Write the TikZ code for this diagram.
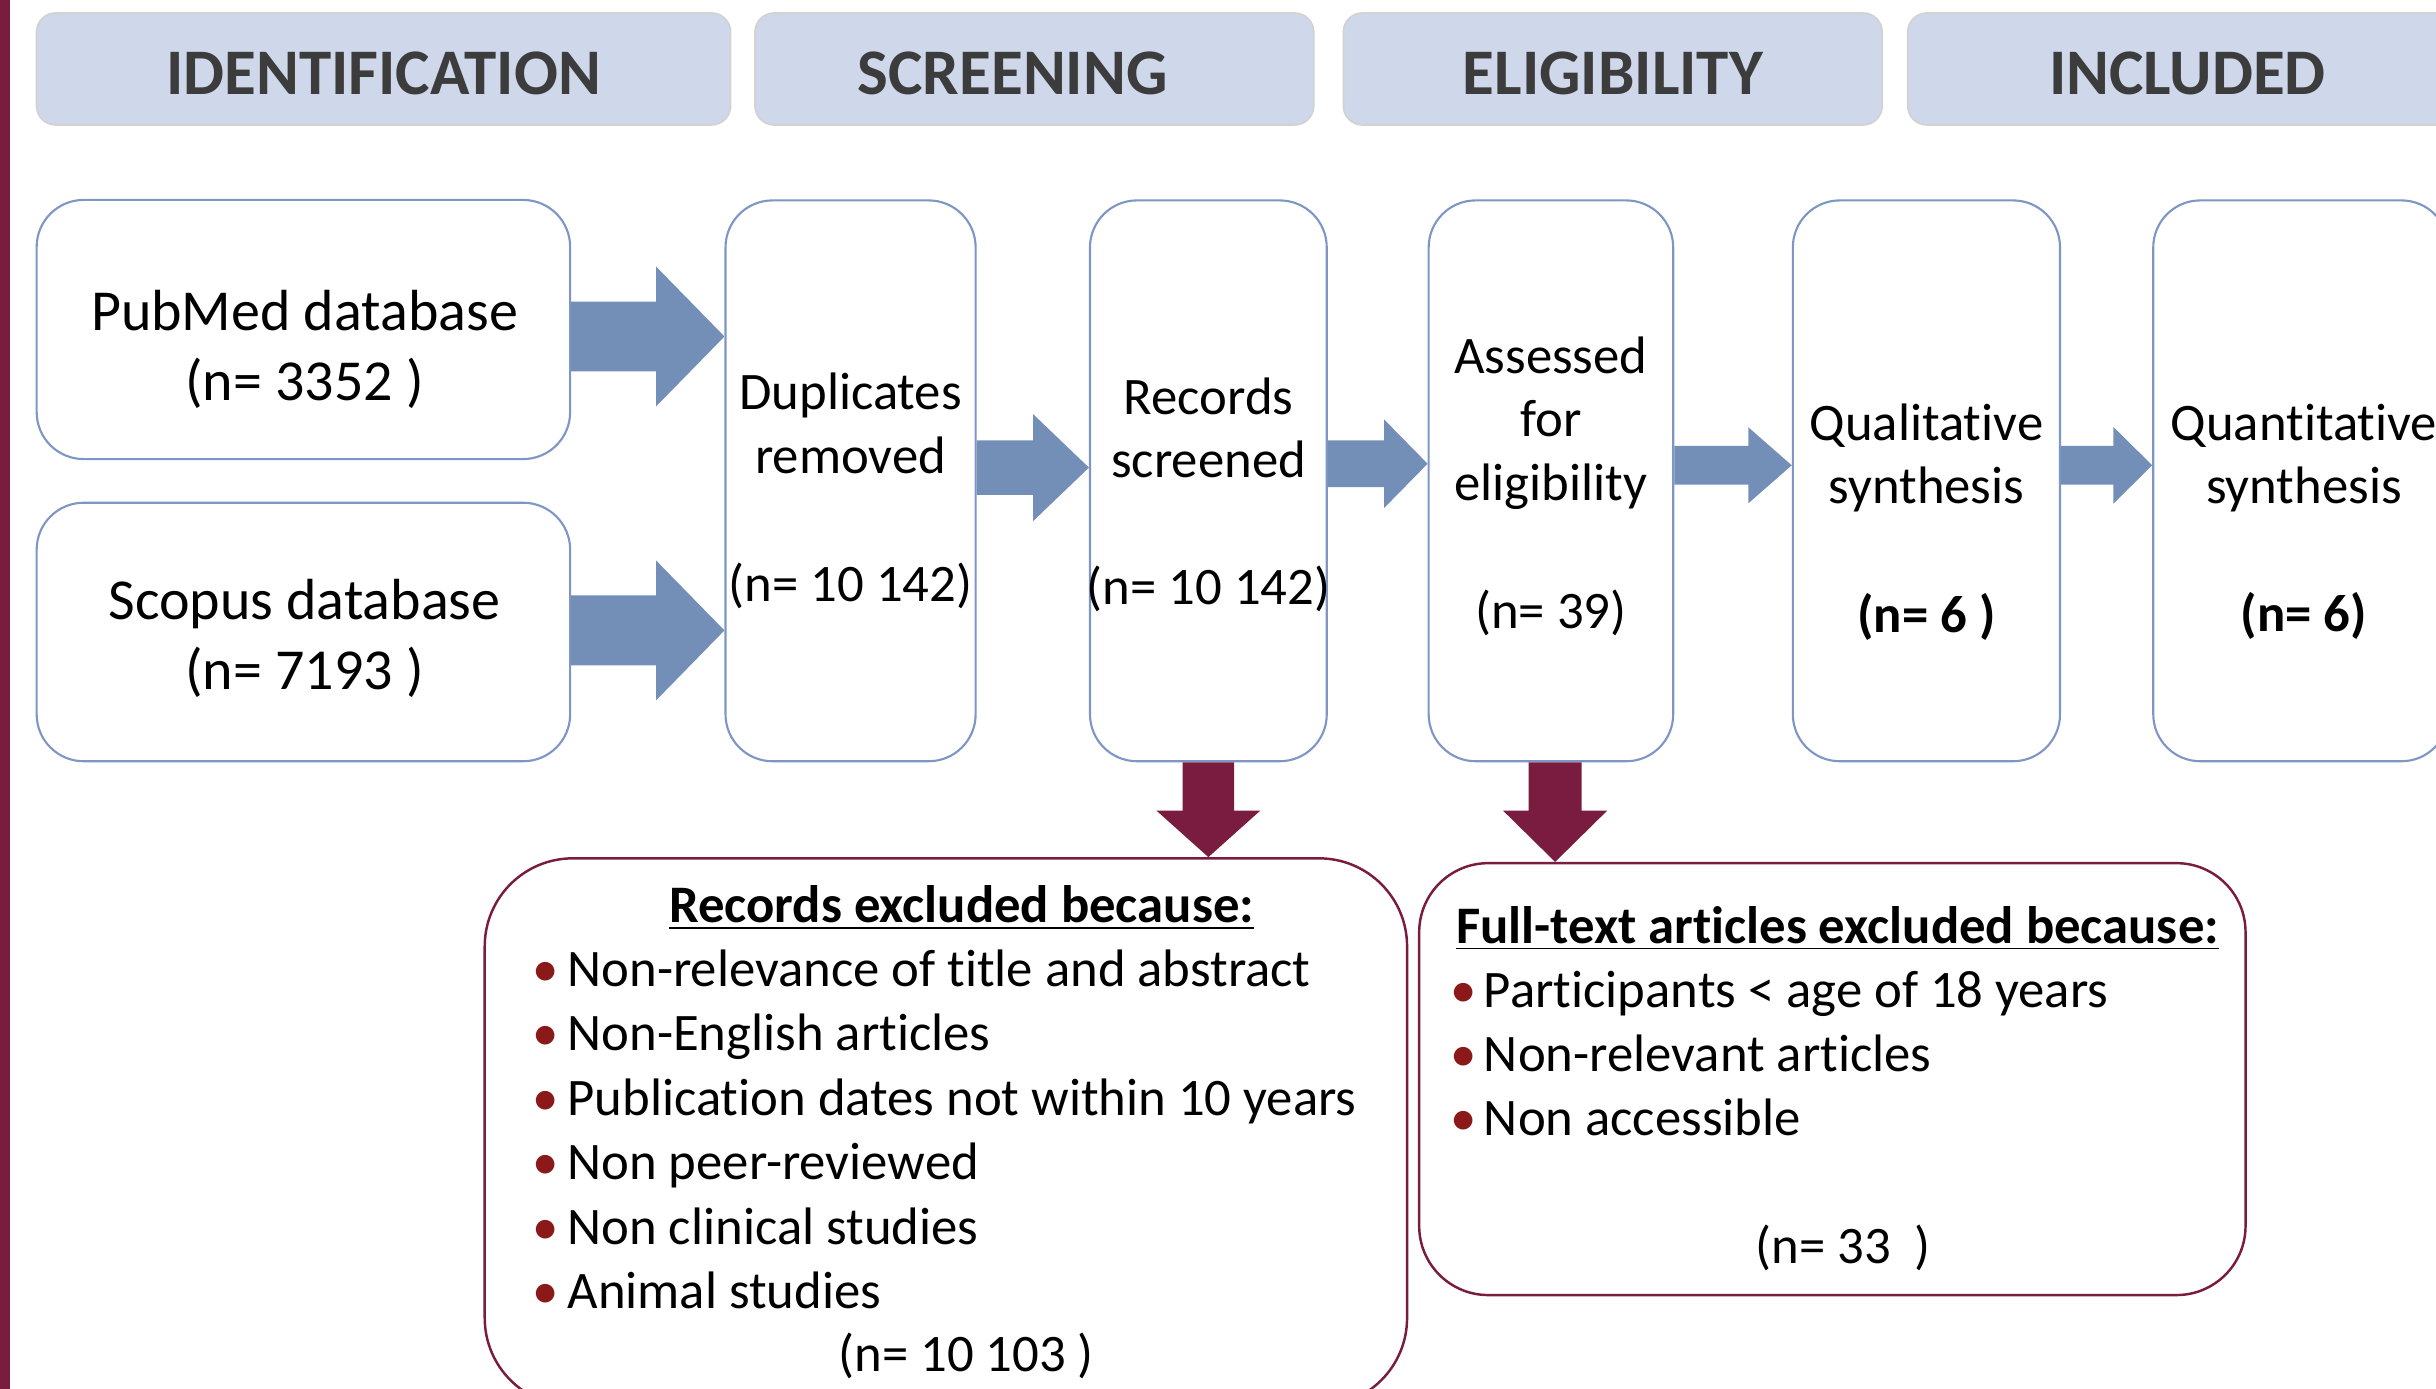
\documentclass[tikz,border=0pt]{standalone}
\usepackage{fontspec}
\setmainfont{Carlito}[Ligatures={NoCommon,NoContextual}]
\usetikzlibrary{calc,fit}

\definecolor{headfill}{RGB}{207,216,235}
\definecolor{headtext}{RGB}{60,60,60}
\definecolor{boxblue}{RGB}{125,150,196}
\definecolor{arrowblue}{RGB}{116,143,183}
\definecolor{wine}{RGB}{122,28,64}
\definecolor{bulred}{RGB}{140,25,25}

\newcommand{\pxu}{0.015536cm}
% #1 colour, #2 from, #3 to, #4 shift, #5 half shaft, #6 half head, #7 head length
\newcommand{\blockright}[7]{%
  \fill[#1] ($(#2)+(0,#4-#5)$) -- ($(#2 -| #3)+(-#7,#4-#5)$) -- ($(#2 -| #3)+(-#7,#4-#6)$)
    -- ($(#2 -| #3)+(0,#4)$) -- ($(#2 -| #3)+(-#7,#4+#6)$) -- ($(#2 -| #3)+(-#7,#4+#5)$)
    -- ($(#2)+(0,#4+#5)$) -- cycle;}
\newcommand{\blockdown}[7]{%
  \fill[#1] ($(#2)+(#4-#5,0)$) -- ($(#2 |- #3)+(#4-#5,-#7)$) -- ($(#2 |- #3)+(#4-#6,-#7)$)
    -- ($(#2 |- #3)+(#4,0)$) -- ($(#2 |- #3)+(#4+#6,-#7)$) -- ($(#2 |- #3)+(#4+#5,-#7)$)
    -- ($(#2)+(#4+#5,0)$) -- cycle;}

\begin{document}
\begin{tikzpicture}[x=0.015536cm, y=-0.015536cm,
    header/.style={draw=gray!35, line width=0.5pt, fill=headfill, rounded corners=0.19cm, inner sep=0pt,
      minimum height=72*\pxu, text height=14.7pt, text depth=0pt,
      text=headtext, font=\fontsize{18.5}{22}\selectfont\bfseries},
    box/.style={draw=boxblue, line width=0.6pt, fill=white, rounded corners=0.47cm, inner sep=0pt},
    exbox/.style={draw=wine, line width=0.7pt, fill=white, inner sep=0pt},
    txt/.style={align=center, inner sep=0pt, font=\fontsize{15}{18}\selectfont},
    bigtxt/.style={align=center, inner sep=0pt, font=\fontsize{16.5}{19.8}\selectfont},
    title/.style={anchor=base, inner sep=0pt, font=\fontsize{15}{18}\selectfont\bfseries},
    item/.style={anchor=base west, inner sep=0pt, font=\fontsize{15}{18}\selectfont}]

\useasboundingbox (0,0) rectangle (1568,894);
\clip (0,0) rectangle (1568,894);
\fill[wine] (0,0) rectangle (6.5,894);

\node[header, minimum width=446.7*\pxu] (hid) at (246.9,44.4) {IDENTIFICATION};
\node[header, minimum width=359.6*\pxu] (hscr) at (665.8,44.4) {SCREENING\hspace*{0.435cm}};
\node[header, minimum width=346.8*\pxu] (helig) at (1038.1,44.4) {ELIGIBILITY};
\node[header, minimum width=360*\pxu] (hinc) at (1408,44.4) {INCLUDED};

\node[box, fit={(23.6,128.7) (367,295.5)}] (pub) {};
\node[box, fit={(23.6,323.6) (367,490)}] (sco) {};
\node[box, fit={(467,129) (628,490)}] (dup) {};
\node[box, fit={(701.6,129) (854,490)}] (rec) {};
\node[box, fit={(919.6,129) (1077,490)}] (ass) {};
\node[box, fit={(1154,129) (1326,490)}] (qual) {};
\node[box, fit={(1386,129) (1576,490)}] (quant) {};

\node[exbox, rounded corners=0.88cm, fit={(312,552.5) (905.7,905)}] (exa) {};
\node[exbox, rounded corners=0.69cm, fit={(913.5,555.6) (1445.4,833.6)}] (exb) {};

\node[bigtxt] (pub-t) at (196,225) {PubMed database\\(n= 3352 )};
\node[bigtxt] (sco-t) at (196,410.8) {Scopus database\\(n= 7193 )};
\node[txt] (dup-t) at (547.5,316) {Duplicates\\removed\\[18.5pt](n= 10 142)};
\node[txt] (rec-t) at (778,318.5) {Records\\screened\\[18pt](n= 10 142)};
\node[txt] (ass-t) at (998.3,313) {Assessed\\for\\eligibility\\[18.5pt](n= 39)};
\node[txt] (qual-t) at (1240,336) {Qualitative\\synthesis\\[18.5pt]\textbf{(n= 6 )}};
\node[txt] (quant-t) at (1483,336) {Quantitative\\synthesis\\[18.5pt]\textbf{(n= 6)}};

\blockright{arrowblue}{pub.east}{dup.west}{4.5}{22.5}{45}{44}
\blockright{arrowblue}{sco.east}{dup.west}{-1}{22.5}{45}{44}
\blockright{arrowblue}{dup.east}{rec.west}{-8.5}{17.6}{34.5}{36}
\blockright{arrowblue}{rec.east}{ass.west}{-11}{15}{28.5}{28}
\blockright{arrowblue}{ass.east}{qual.west}{-10}{12.5}{24.5}{28}
\blockright{arrowblue}{qual.east}{quant.west}{-10}{12.5}{24.7}{25}

\blockdown{wine}{rec.south}{exa.north}{0}{16.5}{33.5}{30}
\blockdown{wine}{ass.south}{exb.north}{2.7}{17}{33.5}{33}

\node[title] (exa-title) at (619,594) {\underline{Records excluded because:}};
\foreach \reason [count=\i] in {Non-relevance of title and abstract, Non-English articles,
    Publication dates not within 10 years, Non peer-reviewed, Non clinical studies, Animal studies}
  \node[item] (exa-\i) at (342,{593.5+41.5*\i}) {\makebox[0.355cm][l]{\color{bulred}\textbullet}\reason};
\node[item, anchor=base] (exa-n) at (622,882.6) {(n= 10 103 )};

\node[title] (exb-title) at (1182.8,607) {\underline{Full-text articles excluded because:}};
\foreach \reason [count=\i] in {Participants < age of 18 years, Non-relevant articles, Non accessible}
  \node[item] (exb-\i) at (933.5,{607+41.2*\i}) {\makebox[0.33cm][l]{\color{bulred}\textbullet}\reason};
\node[item, anchor=base] (exb-n) at (1186.5,813) {(n= 33\ \ )};
\end{tikzpicture}
\end{document}
